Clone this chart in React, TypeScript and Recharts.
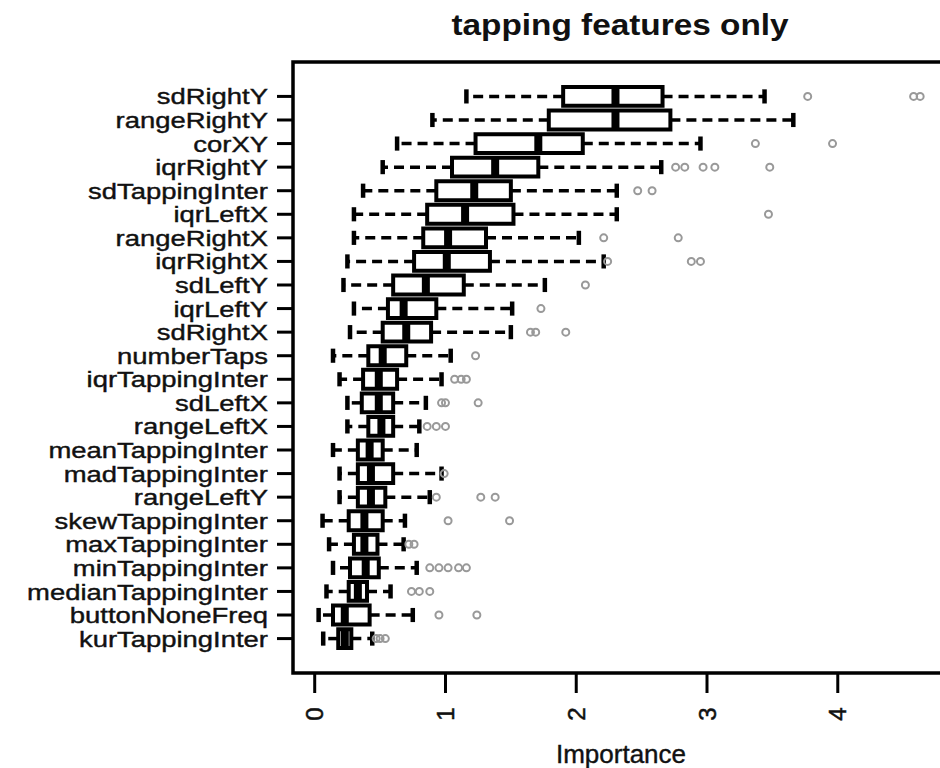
import React from 'react';
import {
  ComposedChart,
  XAxis,
  YAxis,
  Scatter,
  ReferenceArea,
  ReferenceLine,
} from 'recharts';

// features, top to bottom
const features = [
  'sdRightY', 'rangeRightY', 'corXY', 'iqrRightY', 'sdTappingInter', 'iqrLeftX',
  'rangeRightX', 'iqrRightX', 'sdLeftY', 'iqrLeftY', 'sdRightX', 'numberTaps',
  'iqrTappingInter', 'sdLeftX', 'rangeLeftX', 'meanTappingInter', 'madTappingInter',
  'rangeLeftY', 'skewTappingInter', 'maxTappingInter', 'minTappingInter',
  'medianTappingInter', 'buttonNoneFreq', 'kurTappingInter',
];

const lowWhisker = [1.16, 0.9, 0.63, 0.52, 0.37, 0.3, 0.3, 0.25, 0.22, 0.3, 0.27, 0.14, 0.19, 0.25, 0.25, 0.14, 0.19, 0.19, 0.06, 0.11, 0.14, 0.09, 0.03, 0.065];
const lowerQuartile = [1.9, 1.79, 1.23, 1.05, 0.93, 0.86, 0.83, 0.76, 0.6, 0.56, 0.52, 0.41, 0.37, 0.36, 0.41, 0.33, 0.33, 0.33, 0.26, 0.3, 0.27, 0.26, 0.14, 0.18];
const medians = [2.3, 2.3, 1.71, 1.38, 1.22, 1.15, 1.02, 1.01, 0.85, 0.68, 0.7, 0.52, 0.49, 0.49, 0.51, 0.42, 0.43, 0.43, 0.38, 0.38, 0.39, 0.33, 0.23, 0.23];
const upperQuartile = [2.66, 2.72, 2.05, 1.71, 1.5, 1.52, 1.31, 1.34, 1.14, 0.93, 0.89, 0.7, 0.63, 0.6, 0.6, 0.52, 0.6, 0.54, 0.52, 0.48, 0.49, 0.4, 0.42, 0.28];
const highWhisker = [3.44, 3.66, 2.95, 2.65, 2.31, 2.31, 2.02, 2.21, 1.76, 1.51, 1.5, 1.04, 0.97, 0.85, 0.8, 0.78, 0.97, 0.88, 0.69, 0.68, 0.78, 0.58, 0.75, 0.44];
const outliers = [
  [3.77, 4.58, 4.63],
  [],
  [3.37, 3.96],
  [2.76, 2.83, 2.97, 3.06, 3.48],
  [2.47, 2.58],
  [3.47],
  [2.21, 2.78],
  [2.24, 2.88, 2.95],
  [2.07],
  [1.73],
  [1.65, 1.69, 1.92],
  [1.23],
  [1.07, 1.12, 1.16],
  [0.97, 1.0, 1.25],
  [0.86, 0.93, 1.0],
  [],
  [0.99],
  [0.93, 1.27, 1.38],
  [1.02, 1.49],
  [0.72, 0.76],
  [0.88, 0.95, 1.02, 1.1, 1.16],
  [0.74, 0.8, 0.88],
  [0.95, 1.24],
  [0.47, 0.5, 0.54],
];
const xTicks = [0, 1, 2, 3, 4];

const n = features.length;
const rowPos = (i: number) => n - i; // R puts the first level at the bottom
const yTicks = features.map((_, i) => rowPos(i));
const xDomain: [number, number] = [-0.166, 4.82];
const yDomain: [number, number] = [0.5 - 0.96, n + 0.5 + 0.96];

const outlierPoints = outliers.flatMap((vals, i) =>
  vals.map((v) => ({ importance: v, pos: rowPos(i) }))
);

const BOX = 0.4;
const CAP = 0.3;
const FONT = '"Liberation Sans", Arial, Helvetica, sans-serif';

const YTick = ({ x, y, payload }: { x?: number; y?: number; payload?: { value: number } }) => (
  <text
    transform={`translate(${x},${y}) scale(1.22,1)`}
    textAnchor="end"
    dominantBaseline="central"
    fontSize={22.5}
    fontFamily={FONT}
    fill="#111"
    stroke="#111"
    strokeWidth={0.4}
  >
    {features[n - (payload?.value ?? 0)]}
  </text>
);

const XTick = ({ x, y, payload }: { x?: number; y?: number; payload?: { value: number } }) => (
  <text
    transform={`translate(${x},${(y ?? 0) + 19}) rotate(-90)`}
    textAnchor="middle"
    dominantBaseline="central"
    fontSize={24}
    fontFamily={FONT}
    fill="#111"
    stroke="#111"
    strokeWidth={0.5}
  >
    {payload?.value}
  </text>
);

const Outlier = (props: { cx?: number; cy?: number }) => (
  <circle cx={props.cx} cy={props.cy} r={3.5} fill="none" stroke="#999" strokeWidth={2} />
);

export default function App() {
  return (
    <div style={{ position: 'fixed', left: 0, top: 0, width: 940, height: 768, overflow: 'hidden', background: '#fff' }}>
      <ComposedChart width={960} height={768} margin={{ top: 62, right: 15, bottom: 0, left: 0 }}>
        <XAxis
          type="number"
          dataKey="importance"
          domain={xDomain}
          allowDataOverflow
          ticks={xTicks}
          height={95}
          axisLine={false}
          tickLine={{ stroke: '#000', strokeWidth: 3 }}
          tickSize={20}
          tick={<XTick />}
        />
        <YAxis
          type="number"
          dataKey="pos"
          domain={yDomain}
          allowDataOverflow
          ticks={yTicks}
          interval={0}
          width={293}
          axisLine={false}
          tickLine={{ stroke: '#000', strokeWidth: 3 }}
          tickSize={16}
          tickMargin={9}
          tick={<YTick />}
        />
        {features.map((f, i) => (
          <ReferenceLine
            key={`wl-${f}`}
            segment={[{ x: lowerQuartile[i], y: rowPos(i) }, { x: lowWhisker[i], y: rowPos(i) }]}
            stroke="#000"
            strokeWidth={3.5}
            strokeDasharray="10 6"
          />
        ))}
        {features.map((f, i) => (
          <ReferenceLine
            key={`wh-${f}`}
            segment={[{ x: upperQuartile[i], y: rowPos(i) }, { x: highWhisker[i], y: rowPos(i) }]}
            stroke="#000"
            strokeWidth={3.5}
            strokeDasharray="10 6"
          />
        ))}
        {features.map((f, i) => (
          <ReferenceLine
            key={`cl-${f}`}
            segment={[{ x: lowWhisker[i], y: rowPos(i) - CAP }, { x: lowWhisker[i], y: rowPos(i) + CAP }]}
            stroke="#000"
            strokeWidth={4.5}
          />
        ))}
        {features.map((f, i) => (
          <ReferenceLine
            key={`ch-${f}`}
            segment={[{ x: highWhisker[i], y: rowPos(i) - CAP }, { x: highWhisker[i], y: rowPos(i) + CAP }]}
            stroke="#000"
            strokeWidth={4.5}
          />
        ))}
        {features.map((f, i) => (
          <ReferenceArea
            key={`box-${f}`}
            x1={lowerQuartile[i]}
            x2={upperQuartile[i]}
            y1={rowPos(i) - BOX}
            y2={rowPos(i) + BOX}
            fill="#fff"
            fillOpacity={1}
            stroke="#000"
            strokeWidth={4}
          />
        ))}
        {features.map((f, i) => (
          <ReferenceLine
            key={`med-${f}`}
            segment={[{ x: medians[i], y: rowPos(i) - BOX }, { x: medians[i], y: rowPos(i) + BOX }]}
            stroke="#000"
            strokeWidth={8}
          />
        ))}
        <ReferenceArea
          x1={xDomain[0]}
          x2={xDomain[1]}
          y1={yDomain[0]}
          y2={yDomain[1]}
          fill="none"
          stroke="#000"
          strokeWidth={3.5}
        />
        <Scatter data={outlierPoints} shape={<Outlier />} isAnimationActive={false} />
      </ComposedChart>
      <svg width={940} height={768} style={{ position: 'absolute', left: 0, top: 0, pointerEvents: 'none' }}>
        <text
          transform="translate(620,35) scale(1.15,1)"
          textAnchor="middle"
          fontSize={29}
          fontWeight="bold"
          fontFamily={FONT}
          fill="#111"
        >
          tapping features only
        </text>
        <text
          x={621}
          y={763}
          textAnchor="middle"
          fontSize={26}
          fontFamily={FONT}
          fill="#111"
          stroke="#111"
          strokeWidth={0.4}
        >
          Importance
        </text>
      </svg>
    </div>
  );
}
